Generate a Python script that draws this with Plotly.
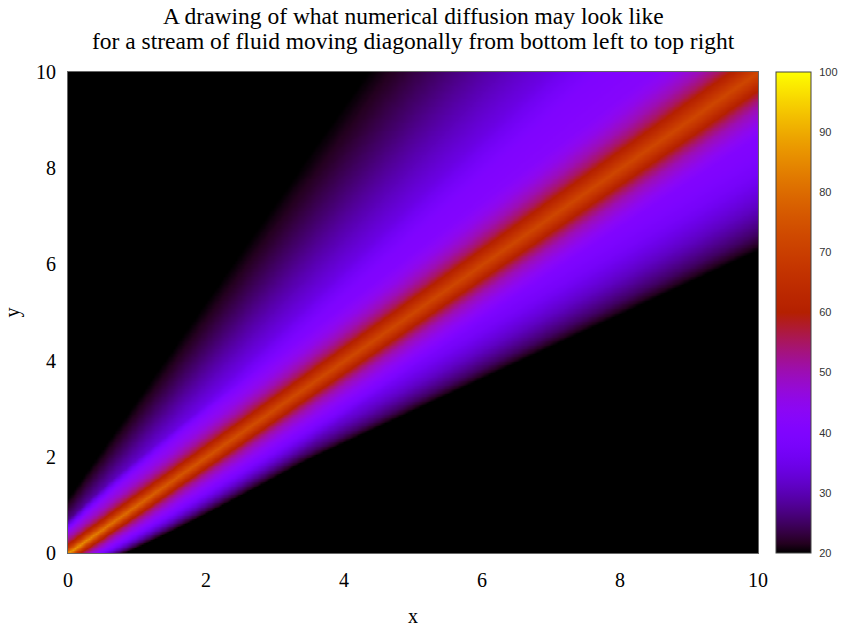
import numpy as np
import plotly.graph_objects as go

# ---- data ----
# outer fan: value vs. angle (degrees) seen from the fan apex
fan_angle = [20.0, 33.7, 34.9, 36.8, 39.0, 40.5, 42.0, 45.0, 48.0, 51.6, 54.0, 56.6, 59.3, 62.2, 63.9, 80.0]
fan_value = [20.0, 20.0, 25.0, 31.0, 37.0, 40.0, 42.0, 44.0, 43.0, 40.0, 34.0, 30.0, 26.0, 22.0, 20.0, 20.0]
fan_apex = (-1.1, -1.1)

# hot core: value vs. normalised offset across the diagonal
core_offset = [-0.60, -0.35, -0.25, -0.166, -0.12, -0.083, -0.04, 0.0, 0.04, 0.09, 0.13, 0.19, 0.27, 0.38, 0.60]
core_value = [20.0, 38.0, 44.0, 50.0, 55.0, 60.0, 67.0, 72.0, 67.0, 60.0, 55.0, 50.0, 45.0, 40.0, 20.0]

# centre-line peak vs. distance along the stream (x + y)
peak_dist = [0.0, 1.0, 3.0, 6.0, 10.0, 20.0]
peak_value = [88.0, 82.0, 76.0, 73.0, 72.0, 72.0]

x_ticks = [0, 2, 4, 6, 8, 10]
y_ticks = [0, 2, 4, 6, 8, 10]
cb_ticks = [20, 30, 40, 50, 60, 70, 80, 90, 100]
title_lines = ["A drawing of what numerical diffusion may look like",
               "for a stream of fluid moving diagonally from bottom left to top right"]

# ---- grid ----
xs = np.linspace(0, 10, 301)
ys = np.linspace(0, 10, 301)
X, Y = np.meshgrid(xs, ys)
theta = np.degrees(np.arctan2(Y - fan_apex[1], X - fan_apex[0]))
u = (Y - X) / np.sqrt(X + Y + 1.0)
peak = np.interp(X + Y, peak_dist, peak_value)
core = 20.0 + (np.interp(u, core_offset, core_value) - 20.0) * (peak - 20.0) / (72.0 - 20.0)
Z = np.maximum(np.interp(theta, fan_angle, fan_value), core)
Z = np.round(Z, 1)

# gnuplot default palette (rgbformulae 7,5,15)
stops = np.linspace(0, 1, 51)
colorscale = []
for t in stops:
    r = np.sqrt(t)
    g = t ** 3
    b = max(0.0, np.sin(2 * np.pi * t))
    colorscale.append([float(t), f"rgb({int(round(r*255))},{int(round(g*255))},{int(round(b*255))})"])

serif = "Liberation Serif, Times New Roman, serif"
W, H = 845, 632
L, T = 68, 72
R, B = W - 758, H - 553
pw, ph = W - L - R, H - T - B
cb_left, cb_right = 776, 811

fig = go.Figure(go.Heatmap(
    x=xs, y=ys, z=Z, zmin=20, zmax=100, colorscale=colorscale, zsmooth="best",
    colorbar=dict(
        x=(cb_left - L) / pw, xanchor="left", xref="paper", y=0.5, yanchor="middle",
        len=1.0, lenmode="fraction", thickness=cb_right - cb_left, thicknessmode="pixels",
        outlinewidth=1, outlinecolor="#444",
        tickvals=cb_ticks, ticks="outside", ticklen=6, tickcolor="rgba(0,0,0,0)",
        tickfont=dict(family="Liberation Sans, Arial, sans-serif", size=11, color="#333"),
        ypad=0, xpad=0,
    ),
    hoverinfo="skip",
))

# small inward tick marks on both sides of the colour box
shapes = []
for v in cb_ticks[1:-1]:
    yp = (v - cb_ticks[0]) / (cb_ticks[-1] - cb_ticks[0])
    for x0, x1 in ((cb_left, cb_left + 5), (cb_right - 5, cb_right)):
        shapes.append(dict(type="line", xref="paper", yref="paper",
                           x0=(x0 - L) / pw, x1=(x1 - L) / pw, y0=yp, y1=yp,
                           line=dict(color="#222", width=1)))

annotations = []
for line_text, cy in zip(title_lines, (16, 41)):
    annotations.append(dict(text=line_text, x=0.5, xref="paper", xanchor="center",
                            y=1 + (T - cy) / ph, yref="paper", yanchor="middle", showarrow=False,
                            font=dict(family=serif, size=23.5, color="black")))

fig.update_layout(
    width=W, height=H,
    margin=dict(l=L, r=R, t=T, b=B, autoexpand=False),
    paper_bgcolor="white", plot_bgcolor="black",
    shapes=shapes,
    annotations=annotations,
    xaxis=dict(range=[0, 10], tickvals=x_ticks, showgrid=False, zeroline=False, automargin=False,
               showline=True, mirror=True, linecolor="#666", linewidth=1, ticks="",
               tickfont=dict(family=serif, size=20, color="black"), ticklabelstandoff=9,
               title=dict(text="x", font=dict(family=serif, size=20, color="black"), standoff=18)),
    yaxis=dict(range=[0, 10], tickvals=y_ticks, showgrid=False, zeroline=False, automargin=False,
               showline=True, mirror=True, linecolor="#666", linewidth=1, ticks="",
               tickfont=dict(family=serif, size=20, color="black"), ticklabelstandoff=7,
               title=dict(text="y", font=dict(family=serif, size=20, color="black"), standoff=11)),
)

# remove the browser's default 8 px body margin so the figure fills the window
fig.write_html("out.html", config={"displayModeBar": False},
               post_script="document.body.style.margin='0px';")
